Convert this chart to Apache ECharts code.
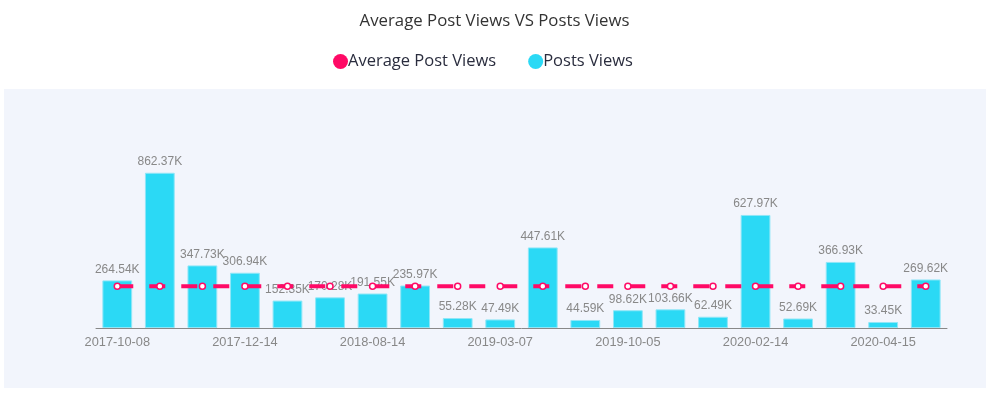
<!DOCTYPE html>
<html>
<head>
<meta charset="utf-8">
<script src="https://cdn.jsdelivr.net/npm/echarts@6/dist/echarts.min.js"></script>
<style>html,body{margin:0;padding:0;background:#fff;}#c{width:989px;height:393px;}</style>
</head>
<body>
<div id="c"></div>
<script>
const categories = ['2017-10-08','2017-11-05','2017-11-20','2017-12-14','2018-01-20','2018-04-10','2018-08-14','2018-10-02','2018-12-11','2019-03-07','2019-05-21','2019-08-09','2019-10-05','2019-11-14','2020-01-06','2020-02-14','2020-03-10','2020-03-28','2020-04-15','2020-05-02'];
const postsViews = [264.54,862.37,347.73,306.94,152.35,170.28,191.55,235.97,55.28,47.49,447.61,44.59,98.62,103.66,62.49,627.97,52.69,366.93,33.45,269.62];
const averageViews = [232,232,232,232,232,232,232,232,232,232,232,232,232,232,232,232,232,232,232,232];

const chart = echarts.init(document.getElementById('c'));
const font = 'Open Sans';
chart.setOption({
  animation: false,
  graphic: [{
    type: 'rect', z: -10, silent: true,
    shape: { x: 4, y: 89, width: 982, height: 299 },
    style: { fill: '#f2f5fc' }
  }],
  title: {
    text: 'Average Post Views VS Posts Views',
    left: 'center', top: 8,
    textStyle: { fontFamily: font, fontSize: 16.8, fontWeight: 'normal', color: '#333' }
  },
  legend: {
    left: 328, top: 48,
    itemWidth: 15, itemHeight: 15, itemGap: 32,
    icon: 'circle',
    textStyle: { fontFamily: font, fontSize: 16.5, color: '#2a2d3e', padding: [0,0,0,-5] },
    data: [
      { name: 'Average Post Views', itemStyle: { color: '#ff0a66', borderWidth: 0 } },
      { name: 'Posts Views', itemStyle: { color: '#2bd9f5', borderWidth: 0 } }
    ]
  },
  grid: { left: 96, right: 42, top: 148, bottom: 65 },
  xAxis: {
    type: 'category',
    data: categories,
    axisLine: { lineStyle: { color: '#888' } },
    axisTick: { alignWithLabel: true, interval: 2, lineStyle: { color: '#888' } },
    axisLabel: { interval: 2, color: '#888', fontSize: 12.8, fontFamily: 'Liberation Sans', margin: 8 }
  },
  yAxis: {
    type: 'value', min: 0, max: 1000, interval: 200, show: false,
    splitLine: { show: false }
  },
  series: [
    {
      name: 'Posts Views', type: 'bar', data: postsViews, barWidth: '70%', z: 1,
      itemStyle: { color: '#2bd9f5', borderColor: '#8fe6f7', borderWidth: 1 },
      label: {
        show: true, position: 'top', distance: 5,
        color: '#888', fontSize: 12, fontFamily: 'Liberation Sans',
        formatter: p => p.value.toFixed(2) + 'K'
      }
    },
    {
      name: 'Average Post Views', type: 'line', data: averageViews, z: 3,
      symbol: 'circle', symbolSize: 6, showSymbol: true,
      lineStyle: { color: '#ff0a66', width: 4, type: [16, 16] },
      itemStyle: { color: '#ffffff', borderColor: '#ff0a66', borderWidth: 1.5 }
    }
  ],
  color: ['#ff0a66', '#2bd9f5']
});
</script>
</body>
</html>
